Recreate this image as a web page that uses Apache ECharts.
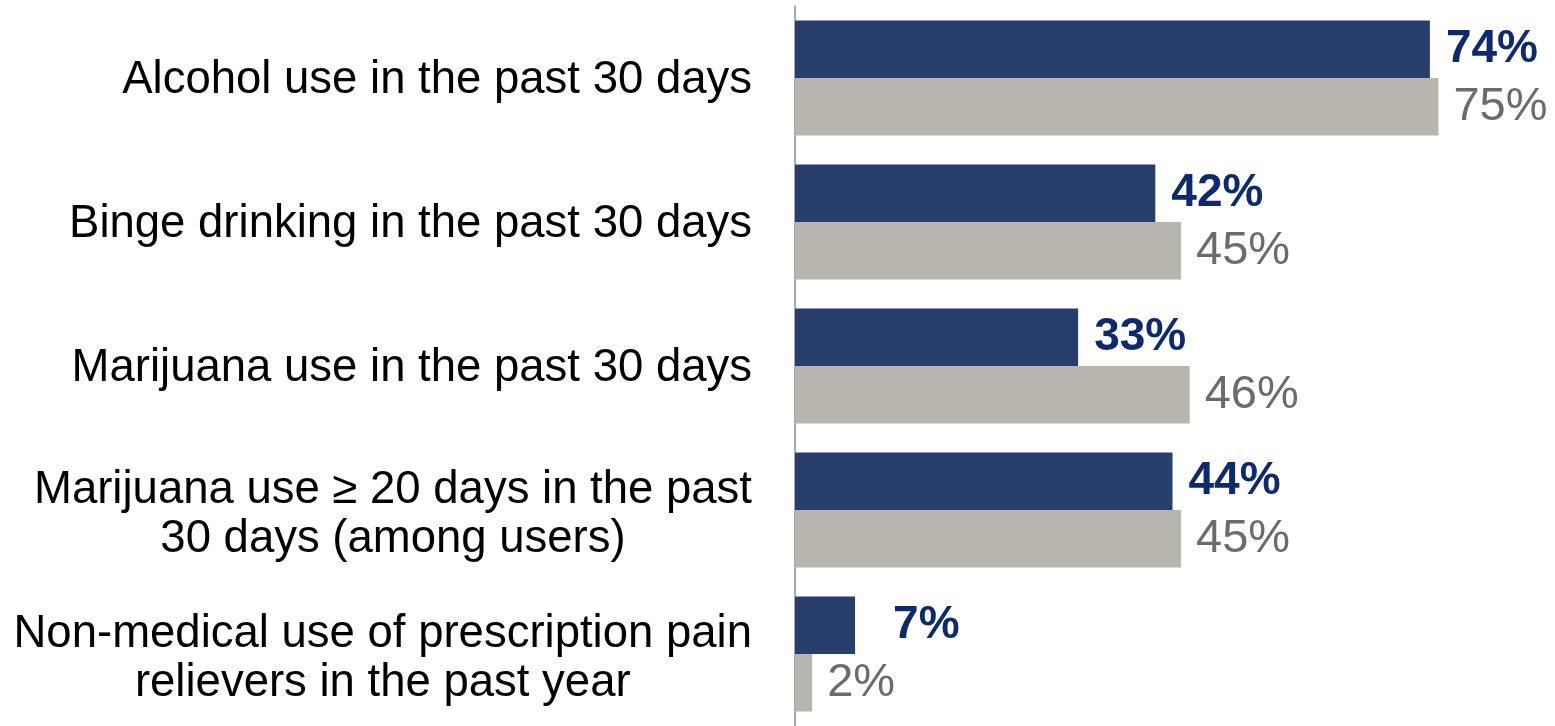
<!DOCTYPE html>
<html><head><meta charset="utf-8">
<script src="https://cdn.jsdelivr.net/npm/echarts@6/dist/echarts.min.js"></script>
<style>html,body{margin:0;padding:0;background:#fff}#c{width:1555px;height:726px}</style>
</head><body><div id="c"></div>
<script>
const categories = [
  "Alcohol use in the past 30 days",
  "Binge drinking in the past 30 days",
  "Marijuana use in the past 30 days",
  "Marijuana use \u2265 20 days in the past\n30 days (among users)",
  "Non-medical use of prescription pain\nrelievers in the past year"
];
const seriesA = [74, 42, 33, 44, 7];
const seriesB = [75, 45, 46, 45, 2];

const FF = 'Liberation Sans, Arial, sans-serif';
const chart = echarts.init(document.getElementById('c'));
chart.setOption({
  animation: false,
  grid: { left: 795, right: 5, top: 6, bottom: -2 },
  xAxis: { type: 'value', min: 0, max: 88, show: false },
  yAxis: {
    type: 'category', data: categories, inverse: true,
    axisLine: { show: true, lineStyle: { color: '#8c8c8c', width: 1.5 } },
    axisTick: { show: false },
    axisLabel: {
      margin: 43, color: '#000', fontFamily: FF, fontSize: 45.5, padding: [5, 0, 0, 0],
      formatter: function (v) {
        const parts = v.split('\n');
        if (parts.length === 1) return '{a|' + parts[0] + '}';
        return '{a2|' + parts[0] + '}\n{b|' + parts[1] + '}';
      },
      rich: {
        a: { fontSize: 45.5, lineHeight: 53, color: '#000', fontFamily: FF, align: 'right' },
        a2: { fontSize: 45.5, lineHeight: 53, color: '#000', fontFamily: FF, align: 'center', padding: [8, 0, 0, 0] },
        b: { fontSize: 45.5, lineHeight: 53, color: '#000', fontFamily: FF, align: 'center' }
      }
    }
  },
  series: [
    {
      type: 'bar', barWidth: 57.5, barGap: '0%',
      data: seriesA.map((v, i) => i === 4 ? { value: v, label: { offset: [22, 0] } } : v),
      itemStyle: { color: '#263e69' },
      label: { show: true, position: 'right', distance: 16, formatter: '{c}%',
        color: '#0d2a6d', fontWeight: 'bold', fontSize: 46, fontFamily: FF }
    },
    {
      type: 'bar', barWidth: 57.5, barGap: '0%',
      data: seriesB,
      itemStyle: { color: '#b8b4ae' },
      label: { show: true, position: 'right', distance: 15, formatter: '{c}%',
        color: '#6b6b6b', fontSize: 47, fontFamily: FF }
    }
  ]
});
</script></body></html>
